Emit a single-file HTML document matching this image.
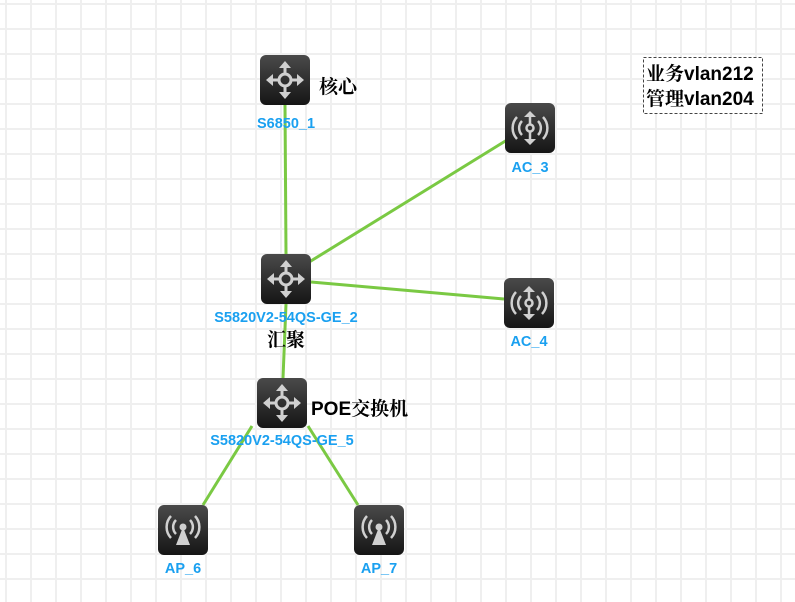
<!DOCTYPE html>
<html><head><meta charset="utf-8"><style>
html,body{margin:0;padding:0;}
body{width:795px;height:602px;overflow:hidden;background:#fff;
background-image:linear-gradient(to right,#efefef 2px,transparent 2px),linear-gradient(to bottom,#efefef 2px,transparent 2px);
background-size:25px 25px;background-position:5px 3px;}
svg{position:absolute;left:0;top:0;}
.lb{font-family:"Liberation Sans",sans-serif;font-weight:bold;font-size:14.5px;fill:#1aa0f0;}
.cn{font-family:"Liberation Sans","Noto Serif CJK SC",serif;font-weight:bold;font-size:19px;fill:#000;}
</style></head><body>
<svg width="795" height="602" viewBox="0 0 795 602">
<defs>
<linearGradient id="g" x1="0" y1="0" x2="0" y2="1"><stop offset="0" stop-color="#4a4a4a"/><stop offset="1" stop-color="#151515"/></linearGradient>
<g id="sw">
<rect x="0" y="0" width="50" height="50" rx="6" fill="url(#g)"/>
<g fill="#d0d0d0" stroke="#d0d0d0">
<circle cx="25" cy="25" r="6" fill="none" stroke-width="3"/>
<path d="M25 19V11M25 31V39M19 25H11M31 25H39" stroke-width="3"/>
<path d="M25 6l-6 7h12zM25 44l-6-7h12zM6 25l7-6v12zM44 25l-7-6v12z" stroke="none"/>
</g></g>
<g id="ac">
<rect x="0" y="0" width="50" height="50" rx="6" fill="url(#g)"/>
<g fill="none" stroke="#d0d0d0" stroke-width="2.5">
<circle cx="25" cy="25" r="3.5"/><path d="M25 12V21M25 29V38"/>
<path d="M17 18a10 10 0 0 0 0 14M33 18a10 10 0 0 1 0 14M12 14a16 16 0 0 0 0 22M38 14a16 16 0 0 1 0 22"/>
</g>
<path d="M25 8l-6 6h12zM25 42l-6-6h12z" fill="#d0d0d0"/></g>
<g id="ap">
<rect x="0" y="0" width="50" height="50" rx="6" fill="url(#g)"/>
<g fill="none" stroke="#d0d0d0" stroke-width="2.5">
<path d="M18 15a10 10 0 0 0 0 14M32 15a10 10 0 0 1 0 14M13 11a16 16 0 0 0 0 22M37 11a16 16 0 0 1 0 22"/></g>
<circle cx="25" cy="22" r="3.5" fill="#d0d0d0"/>
<path d="M25 22l-7 18h14z" fill="#d0d0d0"/></g>
</defs>
<g stroke="#7ac943" stroke-width="3" fill="none">
<path d="M285 105L286 254"/><path d="M306 264L507 140"/><path d="M311 282L504 299"/>
<path d="M286 304L283 378"/><path d="M252 426L203 505"/><path d="M308 426L358 505"/>
</g>
<use href="#sw" x="260" y="55"/>
<use href="#ac" x="505" y="103"/>
<use href="#sw" x="261" y="254"/>
<use href="#ac" x="504" y="278"/>
<use href="#sw" x="257" y="378"/>
<use href="#ap" x="158" y="505"/>
<use href="#ap" x="354" y="505"/>
<g class="lb" text-anchor="middle">
<text x="286" y="128">S6850_1</text>
<text x="530" y="172">AC_3</text>
<text x="286" y="322">S5820V2-54QS-GE_2</text>
<text x="529" y="346">AC_4</text>
<text x="282" y="445">S5820V2-54QS-GE_5</text>
<text x="183" y="573">AP_6</text>
<text x="379" y="573">AP_7</text>
</g>
<text class="cn" x="319" y="93">核心</text>
<text class="cn" x="267" y="346">汇聚</text>
<text class="cn" x="311" y="415">POE交换机</text>
<rect x="643.5" y="57.5" width="119" height="56" fill="#fff" stroke="#444" stroke-dasharray="3,2"/>
<text class="cn" x="646" y="80">业务vlan212</text>
<text class="cn" x="646" y="105">管理vlan204</text>
</svg>
</body></html>
